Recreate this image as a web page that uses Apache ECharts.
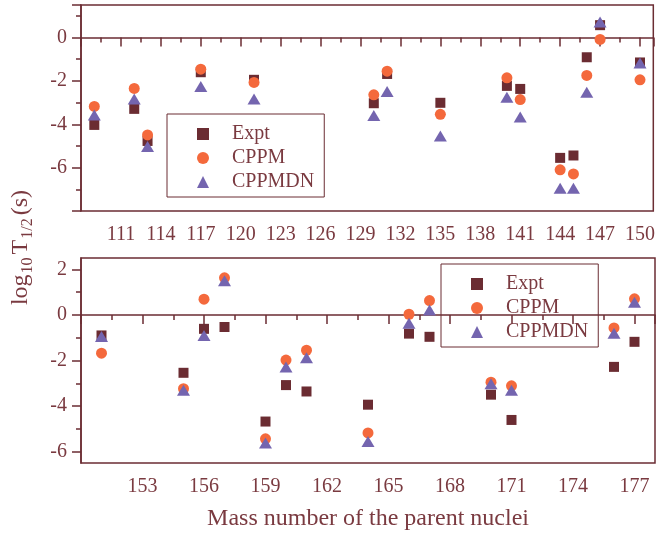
<!DOCTYPE html>
<html>
<head>
<meta charset="utf-8">
<script src="https://cdn.jsdelivr.net/npm/echarts@6/dist/echarts.min.js"></script>
<style>
html, body { margin: 0; padding: 0; background: #fff; }
#main { width: 658px; height: 533px; }
</style>
</head>
<body>
<div id="main"></div>
<script>
// top panel: A = 109..150
var massTop = [109, 112, 113, 117, 121, 130, 131, 135, 140, 141, 144, 145, 146, 147, 150];
var exptTop = [-4.03, -3.29, -4.77, -1.60, -1.95, -3.03, -1.68, -3.01, -2.23, -2.37, -5.55, -5.44, -0.91, 0.57, -1.15];
var cppmTop = [-3.18, -2.35, -4.49, -1.46, -2.07, -2.64, -1.55, -3.54, -1.86, -2.86, -6.10, -6.29, -1.75, -0.09, -1.95];
var cppmdnTop = [-3.57, -2.84, -5.03, -2.26, -2.84, -3.60, -2.49, -4.54, -2.75, -3.67, -6.95, -6.95, -2.52, 0.72, -1.17];

// bottom panel: A = 151..177
var massBottom = [151, 155, 156, 157, 159, 160, 161, 164, 166, 167, 170, 171, 176, 177];
var exptBottom = [-0.90, -2.54, -0.61, -0.53, -4.68, -3.08, -3.36, -3.94, -0.82, -0.96, -3.50, -4.61, -2.28, -1.18];
var cppmBottom = [-1.68, -3.24, 0.69, 1.63, -5.44, -1.98, -1.55, -5.18, 0.03, 0.63, -2.95, -3.11, -0.57, 0.71];
var cppmdnBottom = [-0.95, -3.31, -0.90, 1.50, -5.62, -2.29, -1.88, -5.56, -0.36, 0.22, -3.02, -3.31, -0.80, 0.56];

// bottom y axis starts at -6.5, so its ticks are listed by hand
var yTicksBottom = [-6, -4, -2, 0, 2];
var yMinorBottom = [-5, -3, -1, 1];

var seriesNames = ['Expt', 'CPPM', 'CPPMDN'];

var axisColor = '#6b2d33';
var textColor = '#7a3a40';
var font = 'Liberation Serif';
var exptColor = '#6b2c32';
var cppmColor = '#f4693c';
var cppmdnColor = '#7465af';

function pairs(xs, ys) {
    return xs.map(function (x, i) { return [x, ys[i]]; });
}

var lineSt = { color: axisColor, width: 1.5 };
var labelSt = { color: textColor, fontFamily: font, fontSize: 20, margin: 14, showMinLabel: false, showMaxLabel: false };

function xAxisOf(idx, min, max, name) {
    return {
        type: 'value', gridIndex: idx, min: min, max: max, interval: 3,
        axisLine: { lineStyle: lineSt },
        axisTick: { length: 9, lineStyle: lineSt },
        minorTick: { show: true, splitNumber: 2, length: 5, lineStyle: lineSt },
        splitLine: { show: false },
        axisLabel: labelSt,
        name: name, nameLocation: 'middle', nameGap: 44,
        nameTextStyle: { color: textColor, fontFamily: font, fontSize: 24 }
    };
}

var chart = echarts.init(document.getElementById('main'));
var option = {
    animation: false,
    backgroundColor: '#fff',
    grid: [
        { left: 81, right: 3, top: 5, height: 206, show: true, borderColor: axisColor, borderWidth: 1.5 },
        { left: 81, right: 3, top: 258, height: 205, show: true, borderColor: axisColor, borderWidth: 1.5 }
    ],
    xAxis: [
        xAxisOf(0, 108, 151, ''),
        xAxisOf(1, 150, 178, 'Mass number of the parent nuclei')
    ],
    yAxis: [
        {
            type: 'value', gridIndex: 0, min: -8, max: 1.5, interval: 2,
            axisLine: { lineStyle: lineSt },
            axisTick: { length: 9, lineStyle: lineSt },
            minorTick: { show: true, splitNumber: 2, length: 5, lineStyle: lineSt },
            splitLine: { show: false },
            axisLabel: labelSt
        },
        {
            type: 'value', gridIndex: 1, position: 'left', min: -6.5, max: 2.5,
            axisLine: { lineStyle: lineSt },
            axisTick: { length: 9, lineStyle: lineSt, customValues: yTicksBottom },
            splitLine: { show: false },
            axisLabel: { color: textColor, fontFamily: font, fontSize: 20, margin: 14, customValues: yTicksBottom }
        },
        {
            // minor ticks only
            type: 'value', gridIndex: 1, position: 'left', min: -6.5, max: 2.5,
            axisLine: { show: false },
            axisTick: { length: 5, lineStyle: lineSt, customValues: yMinorBottom },
            splitLine: { show: false },
            axisLabel: { show: false }
        }
    ],
    legend: [167, 441].map(function (left, i) {
        return {
            data: seriesNames, orient: 'vertical', left: left, top: [114, 264][i],
            itemWidth: 12, itemHeight: 12, itemGap: 4,
            padding: [10, 10, 5, 30],
            borderColor: axisColor, borderWidth: 1,
            selectedMode: false,
            textStyle: { color: textColor, fontFamily: font, fontSize: 20, padding: [0, 0, 0, 18] }
        };
    }),
    series: [
        { name: 'Expt', type: 'scatter', xAxisIndex: 0, yAxisIndex: 0, symbol: 'rect', symbolSize: 10,
          itemStyle: { color: exptColor, opacity: 1 }, data: pairs(massTop, exptTop) },
        { name: 'CPPM', type: 'scatter', xAxisIndex: 0, yAxisIndex: 0, symbol: 'circle', symbolSize: 11,
          itemStyle: { color: cppmColor, opacity: 1 }, data: pairs(massTop, cppmTop) },
        { name: 'CPPMDN', type: 'scatter', xAxisIndex: 0, yAxisIndex: 0, symbol: 'triangle', symbolSize: [13, 11],
          itemStyle: { color: cppmdnColor, opacity: 1 }, data: pairs(massTop, cppmdnTop) },
        { name: 'Expt', type: 'scatter', xAxisIndex: 1, yAxisIndex: 1, symbol: 'rect', symbolSize: 10,
          itemStyle: { color: exptColor, opacity: 1 }, data: pairs(massBottom, exptBottom) },
        { name: 'CPPM', type: 'scatter', xAxisIndex: 1, yAxisIndex: 1, symbol: 'circle', symbolSize: 11,
          itemStyle: { color: cppmColor, opacity: 1 }, data: pairs(massBottom, cppmBottom) },
        { name: 'CPPMDN', type: 'scatter', xAxisIndex: 1, yAxisIndex: 1, symbol: 'triangle', symbolSize: [13, 11],
          itemStyle: { color: cppmdnColor, opacity: 1 }, data: pairs(massBottom, cppmdnBottom) }
    ],
    graphic: [{
        type: 'text', left: 9, top: 190, rotation: Math.PI / 2,
        style: {
            text: '{a|log}{b|10}{a|T}{b|1/2}{a|(s)}',
            fill: textColor,
            rich: {
                a: { fontFamily: font, fontSize: 24, fill: textColor, verticalAlign: 'middle' },
                b: { fontFamily: font, fontSize: 16, fill: textColor, verticalAlign: 'bottom', padding: [14, 3, 0, 1] }
            }
        }
    }]
};
chart.setOption(option);
</script>
</body>
</html>
